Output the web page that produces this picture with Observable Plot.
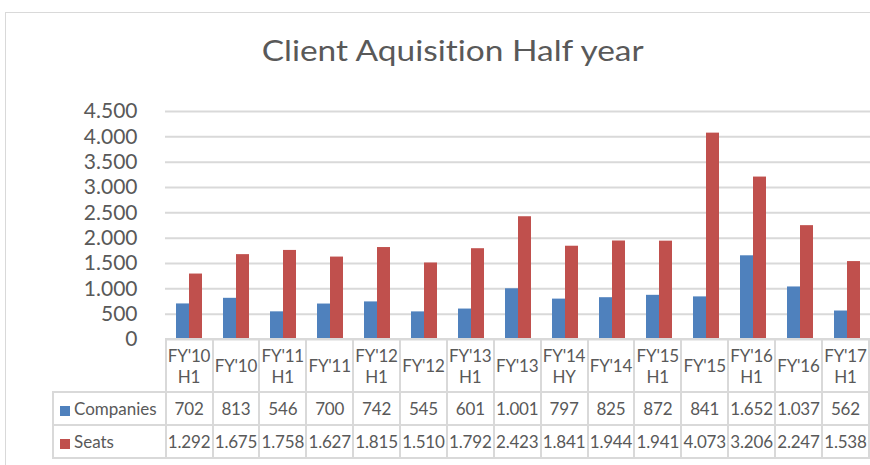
<!DOCTYPE html>
<html>
<head>
<meta charset="utf-8">
<script src="https://cdn.jsdelivr.net/npm/d3@7"></script>
<script src="https://cdn.jsdelivr.net/npm/@observablehq/plot@0.6"></script>
<style>
  html, body { margin: 0; padding: 0; background: #fff; }
  #wrap { position: relative; width: 870px; height: 465px; overflow: hidden; background: #fff; font-family: Lato, "Open Sans", sans-serif; color: #595959; font-variant-ligatures: none; }
  #frame { position: absolute; left: 5px; top: 12px; width: 1000px; height: 600px; border: 1.5px solid #d9d9d9; box-sizing: border-box; }
  #title { position: absolute; left: 0; top: 36px; width: 906px; text-align: center; font-size: 28.5px; font-weight: 400; line-height: 28px; white-space: nowrap; font-variant-ligatures: none; }
  #title span { display: inline-block; transform-origin: center; }
  #plot { position: absolute; left: 0; top: 90px; }
  #table { position: absolute; left: 52px; top: 338px; border-collapse: collapse; table-layout: fixed; font-size: 17px; color: #595959; }
  #table td { border: 2px solid #d9d9d9; text-align: center; padding: 0; white-space: nowrap; overflow: hidden; letter-spacing: -0.2px; }
  #table tr.head td { height: 51px; line-height: 21px; }
  #table tr.row td { height: 31px; }
  #table td.empty { border-top: none; border-left: none; }
  #table td.lab { text-align: left; padding-left: 6px; letter-spacing: 0; }
  .key { display: inline-block; width: 10px; height: 10px; margin-right: 4px; vertical-align: -1px; }
</style>
</head>
<body>
<div id="wrap">
  <div id="frame"></div>
  <div id="title"><span>Client Aquisition Half year</span></div>
  <div id="plot"></div>
  <table id="table"></table>
</div>
<script>
const categories = ["FY'10 H1","FY'10","FY'11 H1","FY'11","FY'12 H1","FY'12","FY'13 H1","FY'13","FY'14 HY","FY'14","FY'15 H1","FY'15","FY'16 H1","FY'16","FY'17 H1"];
const series = ["Companies", "Seats"];
const companies = [702, 813, 546, 700, 742, 545, 601, 1001, 797, 825, 872, 841, 1652, 1037, 562];
const seats = [1292, 1675, 1758, 1627, 1815, 1510, 1792, 2423, 1841, 1944, 1941, 4073, 3206, 2247, 1538];
const yTicks = [0, 500, 1000, 1500, 2000, 2500, 3000, 3500, 4000, 4500];
const colors = ["#4F81BD", "#C0504D"];

const fmt = v => d3.format(",")(v).replace(/,/g, ".");

const data = [];
categories.forEach((c, i) => {
  data.push({cat: c, series: "Companies", value: companies[i]});
  data.push({cat: c, series: "Seats", value: seats[i]});
});

const chart = Plot.plot({
  width: 870,
  height: 270,
  marginLeft: 165,
  marginRight: 0,
  marginTop: 21,
  marginBottom: 21,
  style: {fontFamily: "Lato, sans-serif", fontSize: "21px", color: "#595959", background: "transparent"},
  fx: {domain: categories, padding: 0, axis: null},
  x: {domain: series, paddingInner: 0, paddingOuter: 0.76, axis: null},
  y: {domain: [0, 4500], axis: null},
  color: {domain: series, range: colors},
  marks: [
    Plot.gridY(yTicks, {stroke: "#d9d9d9", strokeOpacity: 1, strokeWidth: 2}),
    Plot.axisY(yTicks, {tickSize: 0, tickPadding: 28, tickFormat: fmt, fill: "#595959", fontSize: 21, label: null}),
    Plot.barY(data, {fx: "cat", x: "series", y: "value", fill: "series", insetLeft: 0, insetRight: 0})
  ]
});
document.getElementById("plot").appendChild(chart);

// data table below the chart
const table = document.getElementById("table");
const colgroup = document.createElement("colgroup");
const c0 = document.createElement("col"); c0.style.width = "113px"; colgroup.appendChild(c0);
categories.forEach(() => { const c = document.createElement("col"); c.style.width = "47px"; colgroup.appendChild(c); });
table.appendChild(colgroup);

const head = document.createElement("tr"); head.className = "head";
const e = document.createElement("td"); e.className = "empty"; head.appendChild(e);
categories.forEach(c => {
  const td = document.createElement("td");
  td.innerHTML = c.split(" ").join("<br>");
  head.appendChild(td);
});
table.appendChild(head);

[companies, seats].forEach((vals, si) => {
  const tr = document.createElement("tr"); tr.className = "row";
  const lab = document.createElement("td"); lab.className = "lab";
  lab.innerHTML = `<span class="key" style="background:${colors[si]}"></span>${series[si]}`;
  tr.appendChild(lab);
  vals.forEach(v => { const td = document.createElement("td"); td.textContent = fmt(v); tr.appendChild(td); });
  table.appendChild(tr);
});

// fit title width to the reference
const tspan = document.querySelector("#title span");
const w = tspan.getBoundingClientRect().width;
tspan.style.transform = `scaleX(${382 / w})`;
</script>
</body>
</html>
